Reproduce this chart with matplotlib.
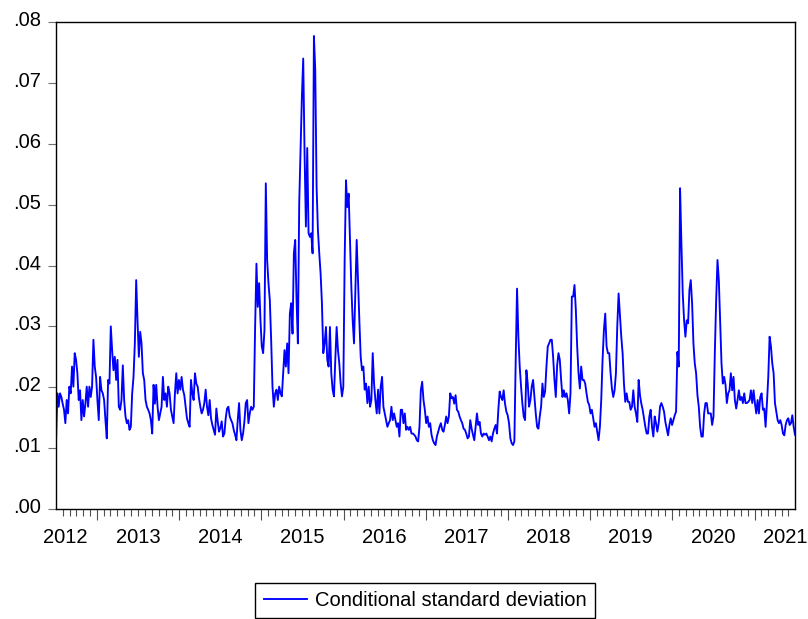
import matplotlib
matplotlib.use('Agg')
import matplotlib.pyplot as plt
import matplotlib.dates as mdates
import matplotlib.transforms as mtransforms
from matplotlib.ticker import FuncFormatter, NullFormatter
from matplotlib.lines import Line2D
import pandas as pd

# sample period and series
start_date = '2012-07-02'
end_date = '2021-06-30'
cond_sd = [
    # 2012 H2 - 2014 H1
    0.0108, 0.0190, 0.0168, 0.0190, 0.0184, 0.0173, 0.0163, 0.0141, 0.0179, 0.0157,
    0.0201, 0.0190, 0.0234, 0.0201, 0.0256, 0.0245, 0.0223, 0.0179, 0.0195, 0.0146,
    0.0179, 0.0152, 0.0173, 0.0201, 0.0168, 0.0201, 0.0184, 0.0201, 0.0278, 0.0234,
    0.0217, 0.0179, 0.0146, 0.0217, 0.0195, 0.0190, 0.0179, 0.0146, 0.0116, 0.0212,
    0.0206, 0.0300, 0.0261, 0.0228, 0.0250, 0.0212, 0.0245, 0.0168, 0.0163, 0.0179,
    0.0236, 0.0179, 0.0152, 0.0141, 0.0146, 0.0130, 0.0135, 0.0190, 0.0217, 0.0272,
    0.0376, 0.0310, 0.0250, 0.0291, 0.0272, 0.0223, 0.0212, 0.0179, 0.0168, 0.0163,
    0.0157, 0.0146, 0.0124, 0.0204, 0.0173, 0.0204, 0.0168, 0.0146, 0.0157, 0.0168,
    0.0217, 0.0179, 0.0190, 0.0168, 0.0201, 0.0190, 0.0163, 0.0152, 0.0141, 0.0190,
    0.0223, 0.0190,
    # 2014 - early 2015
    0.0212, 0.0196, 0.0217, 0.0196, 0.0187, 0.0168, 0.0149, 0.0141, 0.0135, 0.0212,
    0.0190, 0.0179, 0.0223, 0.0206, 0.0201, 0.0182, 0.0168, 0.0157, 0.0163, 0.0174,
    0.0196, 0.0168, 0.0154, 0.0179, 0.0149, 0.0138, 0.0130, 0.0122, 0.0165, 0.0144,
    0.0127, 0.0133, 0.0144, 0.0119, 0.0124, 0.0149, 0.0165, 0.0168, 0.0152, 0.0146,
    0.0141, 0.0130, 0.0122, 0.0113, 0.0146, 0.0174, 0.0130, 0.0113, 0.0124, 0.0144,
    0.0174, 0.0179, 0.0141, 0.0157, 0.0168, 0.0163, 0.0168, 0.0299, 0.0403, 0.0332,
    0.0371, 0.0310, 0.0267, 0.0256, 0.0294, 0.0535, 0.0409, 0.0371, 0.0343, 0.0278,
    0.0201, 0.0168, 0.0190, 0.0196, 0.0179, 0.0201, 0.0190, 0.0185, 0.0223, 0.0261,
    0.0234, 0.0272, 0.0223, 0.0321, 0.0338, 0.0288, 0.0420, 0.0442, 0.0343, 0.0272,
    0.0502,
    # 2015 - 2016
    0.0590, 0.0677, 0.0740, 0.0584, 0.0464, 0.0593, 0.0453, 0.0447, 0.0453, 0.0420,
    0.0777, 0.0721, 0.0529, 0.0458, 0.0420, 0.0387, 0.0338, 0.0256, 0.0272, 0.0299,
    0.0245, 0.0234, 0.0299, 0.0223, 0.0196, 0.0185, 0.0245, 0.0299, 0.0261, 0.0239,
    0.0206, 0.0185, 0.0201, 0.0409, 0.0540, 0.0496, 0.0518, 0.0442, 0.0365, 0.0310,
    0.0272, 0.0354, 0.0442, 0.0376, 0.0310, 0.0250, 0.0228, 0.0234, 0.0196, 0.0206,
    0.0174, 0.0201, 0.0168, 0.0179, 0.0256, 0.0206, 0.0179, 0.0157, 0.0196, 0.0157,
    0.0201, 0.0217, 0.0168, 0.0157, 0.0146, 0.0135, 0.0141, 0.0146, 0.0168, 0.0146,
    0.0157, 0.0146, 0.0135, 0.0141, 0.0119, 0.0163, 0.0163, 0.0141, 0.0157, 0.0130,
    0.0135, 0.0130, 0.0135, 0.0124, 0.0124, 0.0122, 0.0119, 0.0113,
    # 2017 - early 2018
    0.0111, 0.0135, 0.0195, 0.0209, 0.0179, 0.0163, 0.0141, 0.0152, 0.0135, 0.0141,
    0.0122, 0.0113, 0.0108, 0.0105, 0.0119, 0.0127, 0.0135, 0.0141, 0.0130, 0.0127,
    0.0138, 0.0152, 0.0141, 0.0152, 0.0190, 0.0182, 0.0184, 0.0173, 0.0187, 0.0163,
    0.0160, 0.0152, 0.0146, 0.0141, 0.0132, 0.0130, 0.0124, 0.0116, 0.0119, 0.0146,
    0.0132, 0.0122, 0.0113, 0.0135, 0.0157, 0.0138, 0.0143, 0.0124, 0.0119, 0.0124,
    0.0122, 0.0124, 0.0119, 0.0113, 0.0119, 0.0111, 0.0124, 0.0132, 0.0138, 0.0124,
    0.0163, 0.0193, 0.0184, 0.0179, 0.0195, 0.0173, 0.0160, 0.0154, 0.0141, 0.0116,
    0.0108, 0.0105, 0.0111, 0.0245, 0.0362, 0.0283, 0.0234, 0.0201, 0.0173, 0.0152,
    0.0146, 0.0228, 0.0206, 0.0168, 0.0179, 0.0201, 0.0212, 0.0184, 0.0157, 0.0135,
    0.0132, 0.0152,
    # 2018 - 2019
    0.0168, 0.0206, 0.0184, 0.0193, 0.0234, 0.0267, 0.0272, 0.0278, 0.0278, 0.0250,
    0.0212, 0.0184, 0.0236, 0.0256, 0.0245, 0.0212, 0.0184, 0.0195, 0.0184, 0.0190,
    0.0179, 0.0157, 0.0190, 0.0349, 0.0349, 0.0368, 0.0327, 0.0267, 0.0223, 0.0198,
    0.0234, 0.0212, 0.0212, 0.0206, 0.0190, 0.0176, 0.0171, 0.0157, 0.0163, 0.0149,
    0.0135, 0.0141, 0.0127, 0.0113, 0.0135, 0.0179, 0.0245, 0.0294, 0.0321, 0.0267,
    0.0256, 0.0256, 0.0223, 0.0198, 0.0184, 0.0195, 0.0223, 0.0300, 0.0354, 0.0319,
    0.0283, 0.0256, 0.0206, 0.0176, 0.0190, 0.0176, 0.0176, 0.0163, 0.0168, 0.0195,
    0.0168, 0.0157, 0.0143, 0.0212, 0.0187, 0.0173, 0.0163, 0.0149, 0.0135, 0.0124,
    0.0124, 0.0152, 0.0163, 0.0135, 0.0119, 0.0152, 0.0141, 0.0127, 0.0141, 0.0168,
    # 2020 - 2021 H1
    0.0174, 0.0168, 0.0160, 0.0143, 0.0132, 0.0121, 0.0138, 0.0149, 0.0138, 0.0146,
    0.0154, 0.0160, 0.0258, 0.0234, 0.0527, 0.0436, 0.0354, 0.0310, 0.0283, 0.0310,
    0.0305, 0.0360, 0.0376, 0.0338, 0.0272, 0.0239, 0.0223, 0.0187, 0.0168, 0.0135,
    0.0119, 0.0119, 0.0157, 0.0174, 0.0174, 0.0157, 0.0157, 0.0157, 0.0138, 0.0152,
    0.0256, 0.0343, 0.0409, 0.0376, 0.0305, 0.0239, 0.0206, 0.0217, 0.0204, 0.0174,
    0.0190, 0.0195, 0.0223, 0.0195, 0.0217, 0.0179, 0.0165, 0.0179, 0.0195, 0.0179,
    0.0184, 0.0174, 0.0190, 0.0174, 0.0174, 0.0176, 0.0179, 0.0195, 0.0174, 0.0195,
    0.0174, 0.0157, 0.0179, 0.0157, 0.0184, 0.0190, 0.0163, 0.0165, 0.0135, 0.0174,
    0.0217, 0.0283, 0.0267, 0.0239, 0.0223, 0.0174, 0.0160, 0.0146, 0.0141, 0.0146,
    0.0138, 0.0124, 0.0121, 0.0138, 0.0146, 0.0149, 0.0138, 0.0141, 0.0154, 0.0135,
    0.0122,
]
y_ticks = [0.00, 0.01, 0.02, 0.03, 0.04, 0.05, 0.06, 0.07, 0.08]
year_labels = ['2012', '2013', '2014', '2015', '2016', '2017', '2018', '2019', '2020', '2021']
year_label_dates = ['2012-08-10', '2013-07-01', '2014-07-01', '2015-07-01', '2016-07-01',
                    '2017-07-01', '2018-07-01', '2019-07-01', '2020-07-01', '2021-05-18']
series_name = 'Conditional standard deviation'

plt.rcParams['font.family'] = ['Liberation Sans', 'DejaVu Sans']
FS = 14.5
BLUE = '#0000ff'

dates = pd.date_range(start_date, end_date, periods=len(cond_sd))

fig = plt.figure(figsize=(8.08, 6.19), dpi=100)
ax = fig.add_axes([56 / 808, 1 - 509 / 619, (795 - 56) / 808, (509 - 22) / 619])
ax.plot(dates, cond_sd, color=BLUE, lw=1.35)

ax.set_xlim(dates[0], dates[-1])
ax.set_ylim(0, 0.08)

# y axis: ".00" style labels, sitting a little above their ticks
ax.set_yticks(y_ticks)
ax.yaxis.set_major_formatter(FuncFormatter(lambda v, p: f'{v:.2f}'[1:]))
ax.tick_params(axis='y', direction='out', length=6, width=0.8, color='#707070',
               pad=5, labelsize=FS)
up = mtransforms.ScaledTranslation(0, 3.5 / 100, fig.dpi_scale_trans)
for lab in ax.get_yticklabels():
    lab.set_transform(lab.get_transform() + up)

# x axis: year ticks + month ticks, year names placed by hand
ax.xaxis.set_major_locator(mdates.YearLocator())
ax.xaxis.set_minor_locator(mdates.MonthLocator())
ax.xaxis.set_major_formatter(NullFormatter())
ax.tick_params(axis='x', which='major', direction='out', length=8, width=0.8, color='#505050')
ax.tick_params(axis='x', which='minor', direction='out', length=5, width=0.8, color='#505050')
for lbl, d in zip(year_labels, year_label_dates):
    ax.annotate(lbl, xy=(pd.Timestamp(d), 0), xycoords=('data', 'axes fraction'),
                xytext=(0, -24.2), textcoords='offset points',
                ha='center', va='baseline', fontsize=FS)

for sp in ax.spines.values():
    sp.set_linewidth(1.0)
    sp.set_color('black')

handle = Line2D([], [], color=BLUE, lw=1.35)
leg = fig.legend([handle], [series_name], loc='upper center',
                 bbox_to_anchor=(425 / 808, 1 - 583 / 619), frameon=True, fancybox=False,
                 edgecolor='black', framealpha=1, borderpad=0.4, handlelength=2.15,
                 handletextpad=0.4, fontsize=FS, borderaxespad=0)
leg.get_frame().set_linewidth(1.0)

fig.savefig('out.png', dpi=100)
